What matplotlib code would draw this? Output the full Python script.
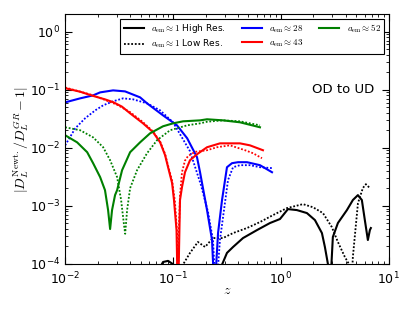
import numpy as np
import matplotlib
matplotlib.use("Agg")
import matplotlib.pyplot as plt

plt.rcParams['mathtext.fontset'] = 'cm'
plt.rcParams['font.family'] = 'DejaVu Sans'

# a_em ~ 28 (blue)
z_28_hi = [0.0100, 0.01377, 0.01816, 0.0211, 0.0278, 0.0359, 0.0495, 0.0574, 0.0807, 0.1088, 0.135,
           0.1667, 0.1778, 0.2065, 0.2297, 0.242, 0.2612, 0.2844, 0.316, 0.3516, 0.400, 0.4844, 0.639, 0.826]
d_28_hi = [0.0604, 0.0708, 0.0797, 0.0897, 0.0971, 0.0933, 0.0736, 0.0581, 0.0361, 0.0243, 0.0146,
           0.00687, 0.0038, 0.000845, 0.000258, 3e-5, 0.00034, 0.00126, 0.00462, 0.00542, 0.00564, 0.00564,
           0.00501, 0.00379]
z_28_lo = [0.0100, 0.0124, 0.0153, 0.0190, 0.0225, 0.0278, 0.0344, 0.0426, 0.0574, 0.0759, 0.100,
           0.1436, 0.1815, 0.211, 0.2344, 0.250, 0.272, 0.2965, 0.323, 0.3597, 0.417, 0.516, 0.639, 0.844]
d_28_lo = [0.0110, 0.0216, 0.0321, 0.0440, 0.0537, 0.0629, 0.0708, 0.0681, 0.0581, 0.0440, 0.0274,
           0.0087, 0.00227, 0.00078, 0.000258, 3e-5, 0.000258, 0.000845, 0.00277, 0.00462, 0.00501, 0.00501,
           0.00462, 0.00445]

# a_em ~ 43 (red)
z_43_hi = [0.0100, 0.0138, 0.01816, 0.0234, 0.0278, 0.0336, 0.0400, 0.0527, 0.0653, 0.0759, 0.0844,
           0.0899, 0.098, 0.102, 0.1077, 0.111, 0.116, 0.121, 0.129, 0.1436, 0.1667, 0.2065, 0.2722, 0.337,
           0.417, 0.516, 0.681]
d_43_hi = [0.106, 0.092, 0.078, 0.068, 0.061, 0.051, 0.0391, 0.0263, 0.0185, 0.0124, 0.00743,
           0.00462, 0.00246, 0.00126, 0.000383, 2e-5, 0.00126, 0.0021, 0.00379, 0.0061, 0.00773, 0.0102,
           0.0119, 0.0119, 0.0119, 0.0110, 0.00906]
z_43_lo = [0.0100, 0.01816, 0.0303, 0.0400, 0.0527, 0.0653, 0.0759, 0.0844, 0.0899, 0.098, 0.104,
           0.109, 0.111, 0.113, 0.116, 0.121, 0.129, 0.1377, 0.160, 0.2065, 0.255, 0.337, 0.465, 0.551, 0.667]
d_43_lo = [0.109, 0.080, 0.055, 0.041, 0.0275, 0.019, 0.0128, 0.0078, 0.0049, 0.0027, 0.0012,
           0.00035, 3e-5, 0.00035, 0.0015, 0.0038, 0.0060, 0.0072, 0.0085, 0.00906, 0.0102, 0.0110,
           0.00906, 0.00805, 0.0066]

# a_em ~ 52 (green)
z_52_hi = [0.0100, 0.0129, 0.0160, 0.01816, 0.0211, 0.0234, 0.025, 0.0261, 0.0272, 0.0290, 0.0303,
           0.0337, 0.0400, 0.0495, 0.0612, 0.0807, 0.100, 0.124, 0.1778, 0.2065, 0.2904, 0.417, 0.639]
d_52_hi = [0.0164, 0.0124, 0.00838, 0.00542, 0.00312, 0.00186, 0.000845, 0.000399, 0.000845, 0.00153,
           0.00186, 0.00411, 0.00838, 0.0124, 0.0177, 0.0234, 0.0263, 0.0285, 0.0296, 0.0309, 0.0296,
           0.0274, 0.0225]
z_52_lo = [0.0100, 0.01377, 0.01816, 0.0225, 0.0261, 0.0303, 0.0330, 0.0352, 0.0360, 0.0375, 0.0400,
           0.0464, 0.0574, 0.0711, 0.0938, 0.135, 0.1778, 0.2065, 0.2904, 0.417, 0.639]
d_52_lo = [0.0225, 0.0200, 0.0151, 0.0102, 0.0061, 0.00312, 0.00126, 0.00045, 0.00033, 0.000845,
           0.00202, 0.00411, 0.00805, 0.0135, 0.0200, 0.0243, 0.0263, 0.0280, 0.0296, 0.0285, 0.0243]

# a_em ~ 1 (black)
z_1_bump = [0.074, 0.0807, 0.0899, 0.100, 0.104]
d_1_bump = [8e-5, 0.000108, 0.000113, 0.000099, 8e-5]
z_1_hi = [0.272, 0.316, 0.360, 0.445, 0.600, 0.791, 0.979, 1.161, 1.406, 1.740, 2.065, 2.397, 2.554,
          2.724, 2.84, 3.027, 3.371, 4.085, 4.641, 5.165, 5.62, 5.99, 6.39, 6.67, 6.81]
d_1_hi = [8e-5, 0.000155, 0.000196, 0.000279, 0.000383, 0.000506, 0.000593, 0.000879, 0.000845, 0.000751,
          0.000569, 0.00034, 0.000196, 0.0001, 3e-5, 0.000291, 0.000506, 0.000845, 0.00126, 0.00153,
          0.00126, 0.000569, 0.000258, 0.000383, 0.000415]
z_1_lo = [0.116, 0.1436, 0.170, 0.198, 0.234, 0.290, 0.360, 0.484, 0.639, 0.844, 1.137, 1.60, 1.98,
          2.45, 2.96, 3.37, 3.91, 4.26, 4.45, 4.64, 5.17, 5.74, 6.12, 6.67]
d_1_lo = [8e-5, 0.000155, 0.000239, 0.000196, 0.000279, 0.000279, 0.00034, 0.000415, 0.000526, 0.000693,
          0.000915, 0.00107, 0.000946, 0.000751, 0.000432, 0.000239, 0.000132, 0.0001, 3e-5, 0.000132,
          0.00111, 0.00202, 0.00236, 0.00202]

fig = plt.figure(figsize=(4.15, 3.12), dpi=100)
ax = fig.add_axes([0.157, 0.154, 0.78, 0.801])

lw = 1.5
dot = (0, (1, 1))
dlw = 1.3
l1, = ax.plot(z_1_hi, d_1_hi, 'k-', lw=lw, label=r'$a_{\rm em}\approx 1$ High Res.')
ax.plot(z_1_bump, d_1_bump, 'k-', lw=lw)
l2, = ax.plot(z_1_lo, d_1_lo, color='k', ls=dot, lw=dlw, label=r'$a_{\rm em}\approx 1$ Low Res.')
l3, = ax.plot(z_28_hi, d_28_hi, 'b-', lw=lw, label=r'$a_{\rm em}\approx 28$')
ax.plot(z_28_lo, d_28_lo, color='b', ls=dot, lw=dlw)
l4, = ax.plot(z_43_hi, d_43_hi, 'r-', lw=lw, label=r'$a_{\rm em}\approx 43$')
ax.plot(z_43_lo, d_43_lo, color='r', ls=dot, lw=dlw)
l5, = ax.plot(z_52_hi, d_52_hi, 'g-', lw=lw, label=r'$a_{\rm em}\approx 52$')
ax.plot(z_52_lo, d_52_lo, color='g', ls=dot, lw=dlw)

ax.set_xscale('log')
ax.set_yscale('log')
ax.set_xlim(1e-2, 1e1)
ax.set_ylim(1e-4, 2)

ax.tick_params(which='both', direction='in', top=True, right=True, labelsize=9)
ax.tick_params(which='major', length=5)
ax.tick_params(which='minor', length=2.5)
ax.tick_params(axis='x', pad=4.5)

ax.set_xlabel(r'$z$', fontsize=10, labelpad=-3)
ax.set_ylabel(r'$|D_L^{\rm Newt.}/D_L^{GR}-1|$', fontsize=10, labelpad=-1)

ax.text(0.955, 0.7, 'OD to UD', transform=ax.transAxes, ha='right', va='center', fontsize=9.5)

leg = ax.legend(handles=[l1, l2, l3, l4, l5], loc='upper right', ncol=3, fontsize=6.5,
                fancybox=False, framealpha=1, edgecolor='k', handlelength=2.2,
                columnspacing=1.8, borderaxespad=0.5, labelspacing=0.3)
leg.get_frame().set_linewidth(0.8)

fig.savefig('out.png', dpi=100)
